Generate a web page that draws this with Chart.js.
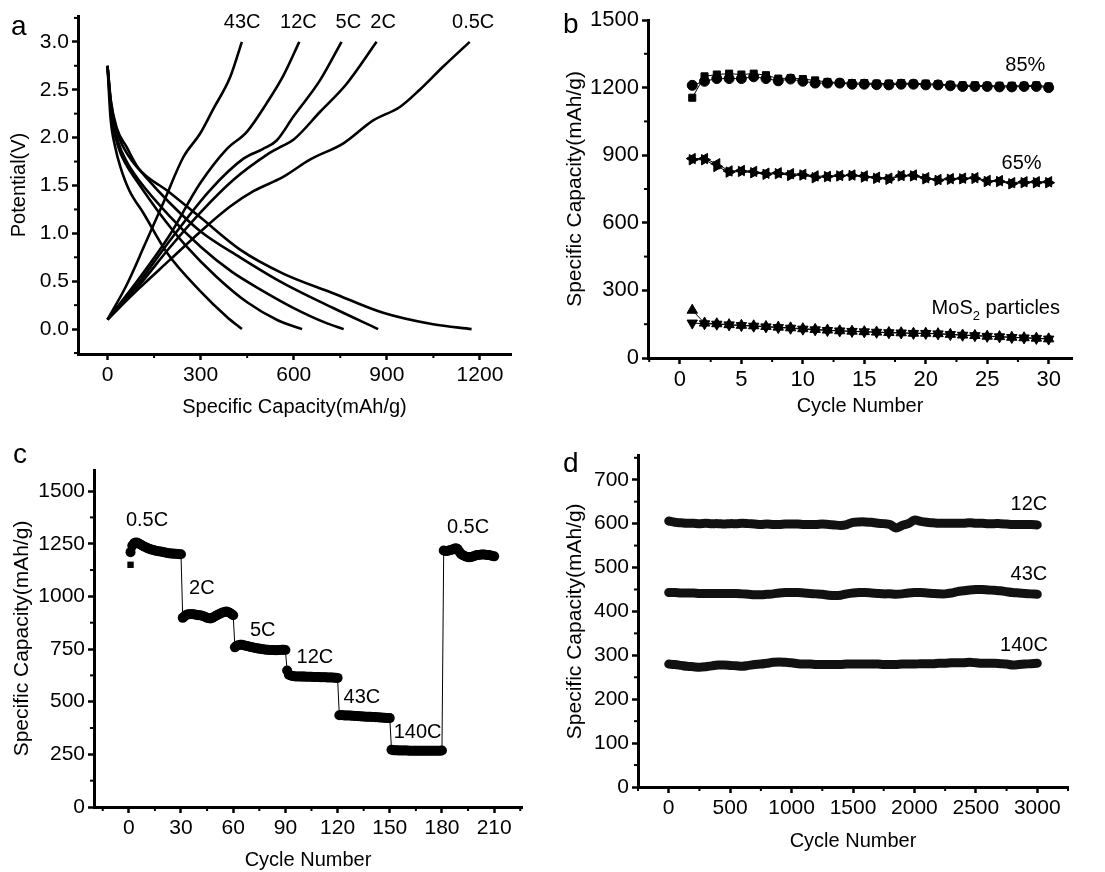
<!DOCTYPE html>
<html>
<head>
<meta charset="utf-8">
<script src="https://cdn.jsdelivr.net/npm/chart.js@4.4.1/dist/chart.umd.min.js"></script>
<style>
  body { margin: 0; background: #fff; }
  #wrap { position: relative; width: 1105px; height: 872px; overflow: hidden; background: #fff; }
  canvas { position: absolute; }
</style>
</head>
<body>
<div id="wrap">
  <canvas id="chartA" width="550" height="430" style="left:0;top:0"></canvas>
  <canvas id="chartB" width="555" height="430" style="left:550px;top:0"></canvas>
  <canvas id="chartC" width="550" height="432" style="left:0;top:440px"></canvas>
  <canvas id="chartD" width="555" height="432" style="left:550px;top:440px"></canvas>
</div>
<script>
// ---- a: charge / discharge profiles (capacity mAh/g, potential V)
const chg05Cap = [0, 100, 200, 300, 395, 470, 566, 652, 760, 856, 942, 1006, 1081, 1167];
const chg05V = [0.10, 0.42, 0.72, 1.02, 1.28, 1.44, 1.59, 1.77, 1.94, 2.18, 2.32, 2.50, 2.74, 3.00];
const chg2Cap = [0, 100, 200, 300, 406, 513, 556, 600, 685, 770, 867];
const chg2V = [0.10, 0.45, 0.85, 1.22, 1.56, 1.82, 1.90, 1.98, 2.27, 2.56, 3.00];
const chg5Cap = [0, 100, 200, 330, 438, 500, 545, 599, 685, 754];
const chg5V = [0.10, 0.48, 0.92, 1.45, 1.78, 1.88, 1.97, 2.22, 2.60, 3.00];
const chg12Cap = [0, 100, 200, 298, 384, 449, 513, 567, 618];
const chg12V = [0.10, 0.52, 0.98, 1.52, 1.88, 2.06, 2.36, 2.65, 3.00];
const chg43Cap = [0, 60, 120, 180, 245, 298, 341, 395, 433];
const chg43V = [0.10, 0.45, 0.88, 1.32, 1.80, 2.04, 2.30, 2.63, 3.00];

const dis05Cap = [0, 10, 30, 62, 100, 191, 298, 427, 566, 727, 888, 1049, 1173];
const dis05V = [2.75, 2.40, 2.10, 1.90, 1.68, 1.45, 1.17, 0.83, 0.58, 0.375, 0.17, 0.05, 0.0];
const dis2Cap = [0, 12, 35, 70, 120, 200, 300, 427, 566, 727, 872];
const dis2V = [2.75, 2.35, 2.02, 1.80, 1.60, 1.32, 1.02, 0.75, 0.48, 0.22, 0.0];
const dis5Cap = [0, 12, 35, 60, 100, 200, 300, 400, 500, 600, 700, 761];
const dis5V = [2.75, 2.30, 1.95, 1.76, 1.56, 1.18, 0.86, 0.60, 0.40, 0.22, 0.07, 0.0];
const dis12Cap = [0, 12, 35, 60, 100, 170, 250, 350, 450, 550, 627];
const dis12V = [2.75, 2.25, 1.90, 1.72, 1.52, 1.20, 0.88, 0.55, 0.28, 0.09, 0.0];
const dis43Cap = [0, 10, 25, 41, 70, 116, 191, 298, 384, 433];
const dis43V = [2.75, 2.20, 1.90, 1.70, 1.45, 1.21, 0.80, 0.40, 0.13, 0.0];

const rateNamesA = ['43C', '12C', '5C', '2C', '0.5C'];
const ticksAx = [0, 300, 600, 900, 1200];
const ticksAy = [0, 0.5, 1.0, 1.5, 2.0, 2.5, 3.0];

// ---- b: cycling at 0.5C for three electrodes
const cyclesB = [1, 2, 3, 4, 5, 6, 7, 8, 9, 10, 11, 12, 13, 14, 15, 16, 17, 18, 19, 20, 21, 22, 23, 24, 25, 26, 27, 28, 29, 30];
const sq85 = [1155, 1250, 1258, 1262, 1258, 1262, 1255, 1240, 1242, 1238, 1232, 1225, 1222, 1220, 1220, 1218, 1218, 1220, 1218, 1218, 1215, 1212, 1210, 1210, 1208, 1208, 1208, 1208, 1210, 1205];
const ci85 = [1210, 1228, 1240, 1240, 1240, 1248, 1240, 1230, 1238, 1228, 1220, 1220, 1220, 1215, 1215, 1213, 1212, 1215, 1215, 1212, 1212, 1208, 1205, 1205, 1205, 1203, 1203, 1205, 1205, 1200];
const rt65 = [880, 880, 850, 825, 828, 822, 815, 818, 810, 812, 800, 805, 808, 810, 803, 797, 793, 808, 808, 795, 788, 793, 795, 797, 783, 783, 773, 778, 778, 778];
const lt65 = [885, 885, 862, 830, 832, 828, 820, 822, 818, 815, 808, 806, 810, 812, 808, 802, 798, 810, 812, 800, 792, 796, 798, 800, 788, 787, 778, 782, 782, 782];
const upMoS2 = [212, 155, 152, 148, 145, 143, 140, 137, 134, 130, 127, 124, 121, 119, 117, 115, 113, 112, 110, 110, 108, 105, 102, 100, 97, 95, 92, 90, 88, 85];
const dnMoS2 = [155, 152, 150, 147, 144, 141, 138, 135, 132, 128, 125, 122, 120, 118, 116, 114, 112, 111, 109, 109, 107, 104, 101, 99, 96, 94, 91, 89, 87, 84];
const ticksBx = [0, 5, 10, 15, 20, 25, 30];
const ticksBy = [0, 300, 600, 900, 1200, 1500];

// ---- c: rate capability, 30 cycles per rate
const rateNamesC = ['0.5C', '2C', '5C', '12C', '43C', '140C', '0.5C'];
const capC05 = [1210, 1240, 1252, 1256, 1255, 1250, 1245, 1240, 1236, 1232, 1228, 1225, 1222, 1220, 1218, 1216, 1214, 1213, 1212, 1210, 1208, 1206, 1205, 1204, 1203, 1202, 1202, 1201, 1200, 1200];
const capC2 = [898, 905, 912, 915, 915, 916, 915, 914, 912, 910, 910, 908, 906, 902, 898, 896, 895, 898, 902, 908, 912, 916, 920, 924, 926, 928, 926, 922, 916, 910];
const capC5 = [758, 765, 768, 770, 770, 768, 766, 764, 762, 760, 758, 756, 755, 753, 752, 750, 749, 748, 747, 746, 745, 745, 745, 744, 744, 745, 745, 746, 746, 745];
const capC12 = [648, 628, 624, 622, 621, 620, 620, 620, 619, 619, 619, 618, 618, 618, 618, 617, 617, 617, 617, 616, 616, 616, 616, 615, 615, 615, 615, 614, 614, 613];
const capC43 = [436, 437, 436, 435, 435, 434, 434, 433, 433, 432, 432, 431, 431, 430, 430, 429, 429, 428, 428, 427, 427, 426, 426, 425, 425, 424, 424, 423, 423, 422];
const capC140 = [272, 270, 269, 269, 268, 268, 268, 268, 268, 268, 267, 267, 267, 267, 267, 267, 267, 267, 267, 267, 267, 267, 267, 267, 267, 267, 267, 267, 267, 268];
const capC05b = [1218, 1215, 1216, 1218, 1220, 1222, 1226, 1228, 1225, 1212, 1200, 1196, 1192, 1188, 1186, 1186, 1187, 1190, 1193, 1196, 1197, 1198, 1199, 1199, 1198, 1197, 1196, 1194, 1192, 1190];
const firstChargeC = 1150;
const ticksCx = [0, 30, 60, 90, 120, 150, 180, 210];
const ticksCy = [0, 250, 500, 750, 1000, 1250, 1500];

// ---- d: long cycling, one value every 50 cycles (0..3000)
const rateNamesD = ['12C', '43C', '140C'];
const capD12 = [606, 603, 602, 601, 601, 600, 601, 600, 600, 599, 600, 600, 601, 600, 599, 598, 599, 598, 598, 599, 599, 599, 598, 598, 598, 599, 598, 597, 596, 598, 603, 604, 604, 603, 601, 600, 598, 590, 596, 600, 608, 605, 603, 602, 601, 601, 601, 601, 601, 602, 601, 601, 600, 600, 600, 599, 598, 598, 598, 598, 597];
const capD43 = [443, 443, 442, 442, 442, 441, 441, 441, 441, 441, 441, 441, 440, 439, 438, 438, 439, 440, 442, 443, 443, 443, 442, 441, 440, 439, 437, 436, 437, 440, 442, 443, 443, 442, 441, 440, 440, 439, 440, 442, 443, 443, 442, 441, 440, 440, 442, 445, 447, 449, 450, 450, 449, 448, 447, 445, 443, 442, 441, 440, 439];
const capD140 = [280, 279, 277, 275, 274, 273, 274, 276, 278, 278, 277, 276, 275, 277, 279, 280, 282, 284, 285, 284, 283, 281, 280, 280, 279, 279, 279, 279, 279, 280, 280, 280, 280, 280, 280, 279, 279, 279, 280, 280, 280, 281, 281, 281, 282, 282, 283, 283, 283, 284, 283, 282, 282, 282, 281, 280, 278, 279, 280, 281, 282];
const cycleStepD = 50;
const ticksDx = [0, 500, 1000, 1500, 2000, 2500, 3000];
const ticksDy = [0, 100, 200, 300, 400, 500, 600, 700];

const FONT = '"Liberation Sans", Arial, Helvetica, sans-serif';
Chart.defaults.font.family = FONT;
Chart.defaults.color = '#000';

const xy = (xs, ys) => xs.map((x, i) => ({ x: x, y: ys[i] }));

// free text placed at data coordinates, plus the panel letter
const notes = {
  id: 'notes',
  afterDatasetsDraw(chart, args, opts) {
    const { ctx } = chart;
    const sx = chart.scales.x, sy = chart.scales.y;
    ctx.save();
    ctx.fillStyle = '#000';
    ctx.textBaseline = 'middle';
    (opts.items || []).forEach(n => {
      const px = sx.getPixelForValue(n.x), py = sy.getPixelForValue(n.y);
      if (n.sub) {
        // text with a subscript: [before, sub, after]
        ctx.font = `20px ${FONT}`;
        const w1 = ctx.measureText(n.sub[0]).width, w3 = ctx.measureText(n.sub[2]).width;
        ctx.font = `13px ${FONT}`;
        const w2 = ctx.measureText(n.sub[1]).width;
        let left = px - (w1 + w2 + w3) / 2;
        ctx.textAlign = 'left';
        ctx.font = `20px ${FONT}`;
        ctx.fillText(n.sub[0], left, py);
        ctx.font = `13px ${FONT}`;
        ctx.fillText(n.sub[1], left + w1, py + 8);
        ctx.font = `20px ${FONT}`;
        ctx.fillText(n.sub[2], left + w1 + w2, py);
      } else {
        ctx.textAlign = 'center';
        ctx.font = `20px ${FONT}`;
        ctx.fillText(n.text, px, py);
      }
    });
    if (opts.tag) {
      ctx.font = `28px ${FONT}`;
      ctx.textAlign = 'left';
      ctx.textBaseline = 'alphabetic';
      ctx.fillText(opts.tag.text, opts.tag.x, opts.tag.y);
    }
    ctx.restore();
  }
};

// short outward minor ticks between the labelled ones
const minorTicks = {
  id: 'minorTicks',
  afterDraw(chart, args, opts) {
    const { ctx, chartArea } = chart;
    ctx.save();
    ctx.strokeStyle = '#000';
    ctx.lineWidth = 2;
    ['x', 'y'].forEach(id => {
      const step = opts[id];
      if (!step) return;
      const s = chart.scales[id];
      for (let k = Math.ceil(s.min / step); k * step <= s.max; k++) {
        const v = k * step;
        if (s.ticks.some(t => Math.abs(t.value - v) < step * 1e-3)) continue;
        const p = s.getPixelForValue(v);
        ctx.beginPath();
        if (id === 'x') {
          ctx.moveTo(p, chartArea.bottom);
          ctx.lineTo(p, chartArea.bottom + 4);
        } else {
          ctx.moveTo(chartArea.left, p);
          ctx.lineTo(chartArea.left - 4, p);
        }
        ctx.stroke();
      }
    });
    ctx.restore();
  }
};

function scale(o) {
  return {
    type: 'linear',
    min: o.min,
    max: o.max,
    afterBuildTicks: s => { s.ticks = o.ticks.map(v => ({ value: v })); },
    afterFit: s => { if (o.width) s.width = o.width; if (o.height) s.height = o.height; },
    ticks: {
      padding: 3,
      font: { size: o.tickSize || 21 },
      color: '#000',
      maxRotation: 0,
      autoSkip: false,
      callback: o.fmt || (v => String(v))
    },
    grid: { drawOnChartArea: false, drawTicks: true, tickLength: 6, tickWidth: 2.5, tickColor: '#000' },
    border: { display: true, color: '#000', width: 3 },
    title: {
      display: true,
      text: o.title,
      font: { size: o.titleSize || 20 },
      color: '#000',
      padding: o.titlePad
    }
  };
}

function baseOptions(pad, scales, notesOpts, minor) {
  return {
    responsive: false,
    animation: false,
    events: [],
    layout: { padding: pad, autoPadding: false },
    plugins: { legend: { display: false }, tooltip: { enabled: false }, notes: notesOpts, minorTicks: minor },
    scales: scales
  };
}

const lineA = (xs, ys) => ({
  data: xy(xs, ys), borderColor: '#000', borderWidth: 2.6, pointRadius: 0,
  cubicInterpolationMode: 'monotone', fill: false
});

new Chart('chartA', {
  type: 'line',
  data: {
    datasets: [
      lineA(chg43Cap, chg43V), lineA(chg12Cap, chg12V), lineA(chg5Cap, chg5V), lineA(chg2Cap, chg2V), lineA(chg05Cap, chg05V),
      lineA(dis43Cap, dis43V), lineA(dis12Cap, dis12V), lineA(dis5Cap, dis5V), lineA(dis2Cap, dis2V), lineA(dis05Cap, dis05V)
    ]
  },
  options: baseOptions(
    { left: 0, top: 16, right: 39, bottom: 0 },
    {
      x: scale({ min: -95, max: 1300, ticks: ticksAx, height: 76, title: 'Specific Capacity(mAh/g)', titleSize: 20, tickSize: 21, titlePad: { top: 0, bottom: 11 } }),
      y: scale({ min: -0.26, max: 3.27, ticks: ticksAy, width: 78, title: 'Potential(V)', titleSize: 20, tickSize: 21, titlePad: { top: 7, bottom: 0 }, fmt: v => v.toFixed(1) })
    },
    {
      items: [
        { text: rateNamesA[0], x: 434, y: 3.2 },
        { text: rateNamesA[1], x: 615, y: 3.2 },
        { text: rateNamesA[2], x: 776, y: 3.2 },
        { text: rateNamesA[3], x: 888, y: 3.2 },
        { text: rateNamesA[4], x: 1178, y: 3.2 }
      ],
      tag: { text: 'a', x: 11, y: 35 }
    },
    { x: 150, y: 0.25 }
  ),
  plugins: [notes, minorTicks]
});

const markB = (ys, style, rot) => ({
  data: xy(cyclesB, ys), borderColor: '#000', backgroundColor: '#000', borderWidth: 1,
  pointStyle: style, pointRotation: rot || 0, pointRadius: style === 'triangle' ? 6 : 5,
  pointBorderWidth: 1, fill: false, tension: 0
});

new Chart('chartB', {
  type: 'line',
  data: {
    datasets: [
      markB(sq85, 'rect'), markB(ci85, 'circle'),
      markB(rt65, 'triangle', 90), markB(lt65, 'triangle', -90),
      markB(upMoS2, 'triangle'), markB(dnMoS2, 'triangle', 180)
    ]
  },
  options: baseOptions(
    { left: 0, top: 20, right: 33, bottom: 0 },
    {
      x: scale({ min: -2.6, max: 31.9, ticks: ticksBx, height: 72, title: 'Cycle Number', tickSize: 22, titlePad: { top: 0, bottom: 12 } }),
      y: scale({ min: 0, max: 1500, ticks: ticksBy, width: 98, title: 'Specific Capacity(mAh/g)', tickSize: 22, titleSize: 21, titlePad: { top: 13, bottom: 0 } })
    },
    {
      items: [
        { text: '85%', x: 28.1, y: 1300 },
        { text: '65%', x: 27.8, y: 864 },
        { sub: ['MoS', '2', ' particles'], x: 25.7, y: 220 }
      ],
      tag: { text: 'b', x: 13, y: 33 }
    },
    { x: 2.5, y: 150 }
  ),
  plugins: [notes, minorTicks]
});

const capC = [].concat(capC05, capC2, capC5, capC12, capC43, capC140, capC05b);
new Chart('chartC', {
  type: 'line',
  data: {
    datasets: [
      {
        data: capC.map((v, i) => ({ x: i + 1, y: v })),
        borderColor: '#000', backgroundColor: '#000', borderWidth: 1,
        pointStyle: 'circle', pointRadius: 5, pointBorderWidth: 0, tension: 0
      },
      {
        data: [{ x: 1, y: firstChargeC }],
        borderColor: '#000', backgroundColor: '#000', pointStyle: 'rect', pointRadius: 4.5, pointBorderWidth: 0, showLine: false
      }
    ]
  },
  options: baseOptions(
    { left: 0, top: 30, right: 28, bottom: 0 },
    {
      x: scale({ min: -20, max: 226, ticks: ticksCx, height: 65, title: 'Cycle Number', titlePad: { top: 0, bottom: 0 } }),
      y: scale({ min: 0, max: 1600, ticks: ticksCy, width: 94, title: 'Specific Capacity(mAh/g)', titleSize: 21, titlePad: { top: 10, bottom: 0 } })
    },
    {
      items: [
        { text: rateNamesC[0], x: 10.5, y: 1361 },
        { text: rateNamesC[1], x: 42, y: 1036 },
        { text: rateNamesC[2], x: 77, y: 839 },
        { text: rateNamesC[3], x: 107, y: 712 },
        { text: rateNamesC[4], x: 134, y: 522 },
        { text: rateNamesC[5], x: 166, y: 356 },
        { text: rateNamesC[6], x: 195, y: 1329 }
      ],
      tag: { text: 'c', x: 13, y: 23 }
    },
    { x: 15, y: 125 }
  ),
  plugins: [notes, minorTicks]
});

const bandD = ys => ({
  data: ys.map((v, i) => ({ x: i * cycleStepD, y: v })),
  borderColor: '#111', borderWidth: 9, pointRadius: 0, tension: 0.3,
  borderCapStyle: 'round', borderJoinStyle: 'round', fill: false
});

new Chart('chartD', {
  type: 'line',
  data: { datasets: [bandD(capD12), bandD(capD43), bandD(capD140)] },
  options: baseOptions(
    { left: 0, top: 7, right: 37, bottom: 0 },
    {
      x: scale({ min: -250, max: 3250, ticks: ticksDx, height: 85, title: 'Cycle Number', titlePad: { top: 0, bottom: 19 } }),
      y: scale({ min: 0, max: 755, ticks: ticksDy, width: 88, title: 'Specific Capacity(mAh/g)', titleSize: 21, titlePad: { top: 13, bottom: 0 } })
    },
    {
      items: [
        { text: rateNamesD[0], x: 2932, y: 644 },
        { text: rateNamesD[1], x: 2932, y: 485 },
        { text: rateNamesD[2], x: 2892, y: 323 }
      ],
      tag: { text: 'd', x: 13, y: 32 }
    },
    { x: 250, y: 50 }
  ),
  plugins: [notes, minorTicks]
});
</script>
</body>
</html>
